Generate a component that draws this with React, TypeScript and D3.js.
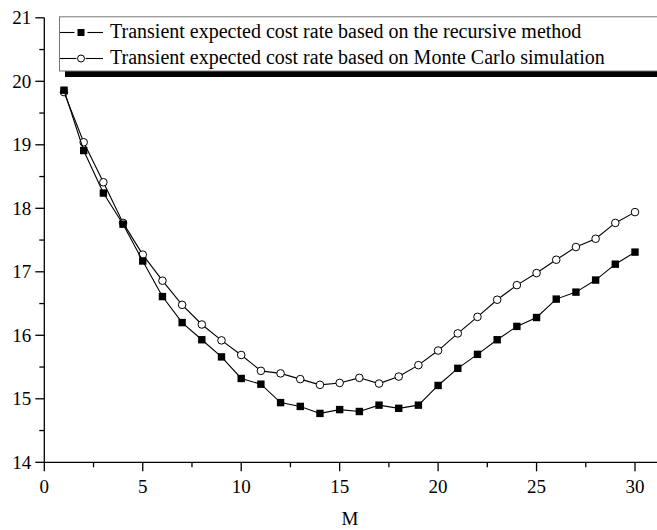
import React, { useEffect, useRef } from 'react';
import * as d3 from 'd3';

// M values on the x axis
const mValues = [1, 2, 3, 4, 5, 6, 7, 8, 9, 10, 11, 12, 13, 14, 15, 16, 17, 18, 19, 20, 21, 22, 23, 24, 25, 26, 27, 28, 29, 30];

// Transient expected cost rate - recursive method (filled squares)
const recursiveCost = [19.86, 18.91, 18.24, 17.75, 17.17, 16.61, 16.2, 15.93, 15.66, 15.32, 15.23, 14.94, 14.88, 14.77, 14.83, 14.8, 14.9, 14.85, 14.9, 15.21, 15.48, 15.7, 15.93, 16.14, 16.28, 16.57, 16.68, 16.87, 17.12, 17.31];

// Transient expected cost rate - Monte Carlo simulation (open circles)
const monteCarloCost = [19.83, 19.04, 18.41, 17.77, 17.27, 16.86, 16.48, 16.17, 15.92, 15.69, 15.44, 15.4, 15.31, 15.22, 15.25, 15.33, 15.24, 15.35, 15.53, 15.76, 16.03, 16.29, 16.56, 16.79, 16.98, 17.19, 17.39, 17.52, 17.77, 17.94];

const xTicks = [0, 5, 10, 15, 20, 25, 30];
const xMinorTicks = [2.5, 7.5, 12.5, 17.5, 22.5, 27.5];
const yTicks = [14, 15, 16, 17, 18, 19, 20, 21];
const yMinorTicks = [14.5, 15.5, 16.5, 17.5, 18.5, 19.5, 20.5];

const legendLabels = [
  'Transient expected cost rate based on the recursive method',
  'Transient expected cost rate based on Monte Carlo simulation',
];

const FONT = '"Liberation Serif", "Times New Roman", serif';

export default function App() {
  const svgRef = useRef<SVGSVGElement>(null);

  useEffect(() => {
    if (!svgRef.current) return;
    const W = 657;
    const H = 530;
    const left = 44.3;
    const bottom = 462.3;

    const svg = d3.select(svgRef.current).attr('width', W).attr('height', H);
    svg.selectAll('*').remove();

    const x = d3.scaleLinear().domain([0, 30]).range([left, 635]);
    const y = d3.scaleLinear().domain([14, 21]).range([bottom, 17.8]);

    const recData = mValues.map((m, i) => ({ m, v: recursiveCost[i] }));
    const mcData = mValues.map((m, i) => ({ m, v: monteCarloCost[i] }));

    // axes
    const xAxis = svg.append('g').attr('transform', `translate(0,${bottom})`);
    xAxis.append('line').attr('x1', left).attr('x2', 657).attr('stroke', '#000').attr('stroke-width', 1.3);
    xAxis.selectAll('.xt').data(xTicks).enter().append('line')
      .attr('x1', d => x(d)).attr('x2', d => x(d)).attr('y1', 0).attr('y2', 9)
      .attr('stroke', '#000').attr('stroke-width', 1.3);
    xAxis.selectAll('.xm').data(xMinorTicks).enter().append('line')
      .attr('x1', d => x(d)).attr('x2', d => x(d)).attr('y1', 0).attr('y2', 5)
      .attr('stroke', '#000').attr('stroke-width', 1.3);
    xAxis.selectAll('.xl').data(xTicks).enter().append('text')
      .attr('x', d => x(d)).attr('y', 31)
      .attr('text-anchor', 'middle')
      .style('font-family', FONT).style('font-size', '19px')
      .text(d => d);

    const yAxis = svg.append('g').attr('transform', `translate(${left},0)`);
    yAxis.append('line').attr('y1', y(21)).attr('y2', bottom).attr('stroke', '#000').attr('stroke-width', 1.3);
    yAxis.selectAll('.yt').data(yTicks).enter().append('line')
      .attr('y1', d => y(d)).attr('y2', d => y(d)).attr('x1', 0).attr('x2', -9)
      .attr('stroke', '#000').attr('stroke-width', 1.3);
    yAxis.selectAll('.ym').data(yMinorTicks).enter().append('line')
      .attr('y1', d => y(d)).attr('y2', d => y(d)).attr('x1', 0).attr('x2', -5)
      .attr('stroke', '#000').attr('stroke-width', 1.3);
    yAxis.selectAll('.yl').data(yTicks).enter().append('text')
      .attr('x', -13).attr('y', d => y(d) + 6.5)
      .attr('text-anchor', 'end')
      .style('font-family', FONT).style('font-size', '19px')
      .text(d => d);

    svg.append('text')
      .attr('x', 350).attr('y', 525)
      .attr('text-anchor', 'middle')
      .style('font-family', FONT).style('font-size', '19px')
      .text('M');

    const line = d3.line<{ m: number; v: number }>()
      .x(d => x(d.m))
      .y(d => y(d.v));

    // Monte Carlo series
    svg.append('path').datum(mcData)
      .attr('fill', 'none').attr('stroke', '#000').attr('stroke-width', 1.1)
      .attr('d', line);
    svg.selectAll('.mc').data(mcData).enter().append('circle')
      .attr('cx', d => x(d.m)).attr('cy', d => y(d.v)).attr('r', 3.8)
      .attr('fill', '#fff').attr('stroke', '#000').attr('stroke-width', 1);

    // recursive series
    svg.append('path').datum(recData)
      .attr('fill', 'none').attr('stroke', '#000').attr('stroke-width', 1.1)
      .attr('d', line);
    svg.selectAll('.rec').data(recData).enter().append('rect')
      .attr('x', d => x(d.m) - 3.7).attr('y', d => y(d.v) - 3.7)
      .attr('width', 7.4).attr('height', 7.4)
      .attr('fill', '#000');

    // legend
    const lg = svg.append('g');
    lg.append('rect').attr('x', 65).attr('y', 71).attr('width', 600).attr('height', 6).attr('fill', '#000');
    lg.append('rect').attr('x', 59.5).attr('y', 16.8).attr('width', 610).attr('height', 54.2)
      .attr('fill', '#fff').attr('stroke', '#777').attr('stroke-width', 1);
    legendLabels.forEach((label, i) => {
      const ly = 32.5 + i * 26;
      const gap = i === 0 ? 6.5 : 4.5;
      lg.append('line').attr('x1', 60).attr('x2', 81 - gap).attr('y1', ly).attr('y2', ly)
        .attr('stroke', '#000').attr('stroke-width', 1.1);
      lg.append('line').attr('x1', 81 + gap).attr('x2', 103).attr('y1', ly).attr('y2', ly)
        .attr('stroke', '#000').attr('stroke-width', 1.1);
      if (i === 0) {
        lg.append('rect').attr('x', 77.5).attr('y', ly - 3.5).attr('width', 7).attr('height', 7).attr('fill', '#000');
      } else {
        lg.append('circle').attr('cx', 81).attr('cy', ly).attr('r', 3.5)
          .attr('fill', '#fff').attr('stroke', '#000').attr('stroke-width', 1);
      }
      lg.append('text').attr('x', 110).attr('y', ly + 5.5)
        .style('font-family', FONT).style('font-size', '20px')
        .text(label);
    });
  }, []);

  return (
    <div style={{ position: 'absolute', left: 0, top: 0, width: 657, height: 530, background: '#fff' }}>
      <svg ref={svgRef} style={{ display: 'block' }}></svg>
    </div>
  );
}
